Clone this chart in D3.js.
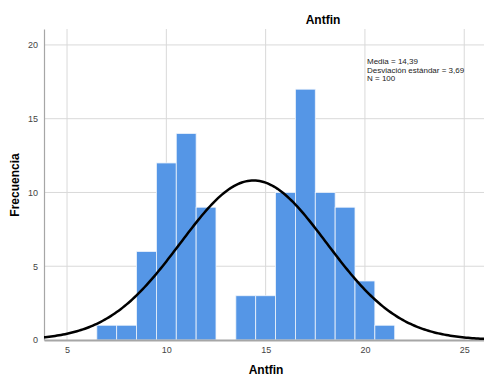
<!DOCTYPE html>
<html>
<head>
<meta charset="utf-8">
<script src="https://cdn.jsdelivr.net/npm/d3@7"></script>
<style>
body { margin: 0; background: #fff; }
svg { font-family: "Liberation Sans", Arial, sans-serif; }
</style>
</head>
<body>
<div id="chart"></div>
<script>
// histogram bins (centre of bin) and counts
var bins = [7, 8, 9, 10, 11, 12, 13, 14, 15, 16, 17, 18, 19, 20, 21];
var counts = [1, 1, 6, 12, 14, 9, 0, 3, 3, 10, 17, 10, 9, 4, 1];
var xTicks = [5, 10, 15, 20, 25];
var yTicks = [0, 5, 10, 15, 20];
var media = 14.39;
var desv = 3.69;
var n = 100;

var w = 484, h = 376;
var plotL = 44, plotR = 496, plotT = 29, plotB = 340;

var svg = d3.select('#chart').append('svg').attr('width', w).attr('height', h);

var x = d3.scaleLinear().domain([3.84, 26.6]).range([plotL, plotR]);
var y = d3.scaleLinear().domain([0, 21.08]).range([plotB, plotT]);

svg.append('defs').append('clipPath').attr('id', 'clip')
    .append('rect').attr('x', plotL).attr('y', plotT - 5).attr('width', plotR - plotL).attr('height', plotB - plotT + 5);

// grid
svg.append('g').selectAll('line').data(xTicks).enter().append('line')
    .attr('x1', function (d) { return x(d); }).attr('x2', function (d) { return x(d); })
    .attr('y1', plotT).attr('y2', plotB)
    .attr('stroke', '#d9d9d9').attr('stroke-width', 1);
svg.append('g').selectAll('line').data(yTicks.slice(1)).enter().append('line')
    .attr('x1', plotL).attr('x2', plotR)
    .attr('y1', function (d) { return y(d); }).attr('y2', function (d) { return y(d); })
    .attr('stroke', '#d9d9d9').attr('stroke-width', 1);

// bars
svg.append('g').selectAll('rect').data(bins).enter().append('rect')
    .attr('x', function (d) { return x(d - 0.5); })
    .attr('width', function (d) { return x(d + 0.5) - x(d - 0.5); })
    .attr('y', function (d, i) { return y(counts[i]); })
    .attr('height', function (d, i) { return y(0) - y(counts[i]); })
    .attr('fill', '#5596e6')
    .attr('stroke', '#eef4fc').attr('stroke-width', 0.8);

// axes
var xAxis = svg.append('g').attr('transform', 'translate(0,' + plotB + ')')
    .call(d3.axisBottom(x).tickValues(xTicks).tickSize(0).tickPadding(7));
xAxis.select('.domain').attr('stroke', '#a6a6a6').attr('stroke-width', 2);
xAxis.selectAll('text').attr('fill', '#444').style('font-size', '9px');

var yAxis = svg.append('g').attr('transform', 'translate(' + plotL + ',0)')
    .call(d3.axisLeft(y).tickValues(yTicks).tickSize(0).tickPadding(6));
yAxis.select('.domain').attr('stroke', '#a6a6a6').attr('stroke-width', 1.2);
yAxis.selectAll('text').attr('fill', '#444').style('font-size', '9px');

// normal curve
var pts = d3.range(3.8, 26.7, 0.1).map(function (v) {
    var z = (v - media) / desv;
    return [v, n / (desv * Math.sqrt(2 * Math.PI)) * Math.exp(-0.5 * z * z)];
});
svg.append('path').datum(pts)
    .attr('clip-path', 'url(#clip)')
    .attr('d', d3.line().x(function (d) { return x(d[0]); }).y(function (d) { return y(d[1]); }))
    .attr('fill', 'none').attr('stroke', '#000').attr('stroke-width', 2.5);

// titles
svg.append('text').attr('x', 323).attr('y', 24).attr('text-anchor', 'middle')
    .style('font-size', '12px').style('font-weight', 'bold').text('Antfin');
svg.append('text').attr('x', 266).attr('y', 374).attr('text-anchor', 'middle')
    .style('font-size', '12px').style('font-weight', 'bold').text('Antfin');
svg.append('text').attr('transform', 'translate(19,185) rotate(-90)').attr('text-anchor', 'middle')
    .style('font-size', '12px').style('font-weight', 'bold').text('Frecuencia');

// stats box
var stats = ['Media = ' + d3.format('.2f')(media).replace('.', ','),
    'Desviación estándar = ' + d3.format('.2f')(desv).replace('.', ','),
    'N = ' + n];
svg.append('g').selectAll('text').data(stats).enter().append('text')
    .attr('x', 367).attr('y', function (d, i) { return 64 + i * 8.5; })
    .style('font-size', '8px').attr('fill', '#222').text(function (d) { return d; });
</script>
</body>
</html>
